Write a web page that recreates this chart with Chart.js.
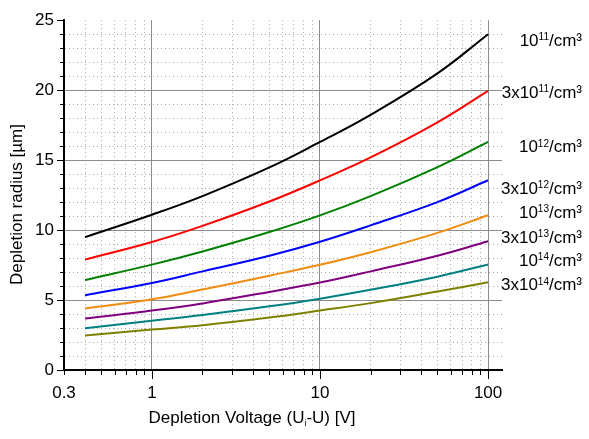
<!DOCTYPE html>
<html>
<head>
<meta charset="utf-8">
<script src="https://cdn.jsdelivr.net/npm/chart.js@4"></script>
<style>
  html, body { margin: 0; padding: 0; background: #fff; }
  canvas { display: block; }
</style>
</head>
<body>
<canvas id="radiusChart" width="589" height="439"></canvas>
<script>
// depletion voltage (Ui - U) in V
const voltages = [0.4, 1, 2, 5, 10, 20, 50, 100];

// depletion radius in µm, one array per doping density
const r1e11 = [9.5, 11.1, 12.43, 14.48, 16.3, 18.24, 21.2, 24.0];
const r3e11 = [7.89, 9.15, 10.3, 12.04, 13.55, 15.19, 17.7, 19.95];
const r1e12 = [6.43, 7.53, 8.47, 9.86, 11.05, 12.43, 14.5, 16.3];
const r3e12 = [5.35, 6.22, 7.05, 8.17, 9.17, 10.34, 12.0, 13.56];
const r1e13 = [4.39, 5.05, 5.75, 6.74, 7.52, 8.42, 9.8, 11.06];
const r3e13 = [3.68, 4.25, 4.76, 5.58, 6.25, 7.05, 8.17, 9.2];
const r1e14 = [2.98, 3.52, 3.93, 4.55, 5.1, 5.73, 6.67, 7.54];
const r3e14 = [2.46, 2.89, 3.2, 3.75, 4.25, 4.78, 5.61, 6.27];

// curve labels: mantissa text and exponent
const labelMantissa = ["10", "3x10", "10", "3x10", "10", "3x10", "10", "3x10"];
const labelExponent = ["11", "11", "12", "12", "13", "13", "14", "14"];

// axis ticks
const xTicks = [0.3, 0.4, 0.5, 0.6, 0.7, 0.8, 0.9, 1, 2, 3, 4, 5, 6, 7, 8, 9,
                10, 20, 30, 40, 50, 60, 70, 80, 90, 100];
const xTickLabels = ["0.3", "1", "10", "100"];
const yTicks = [0, 1, 2, 3, 4, 5, 6, 7, 8, 9, 10, 11, 12, 13, 14, 15, 16, 17, 18, 19, 20, 21, 22, 23, 24, 25];

const FONT = '"Liberation Sans", Arial, sans-serif';
const colors = ["#000000", "#ff0000", "#008000", "#0000ff", "#f28c0f", "#800080", "#008080", "#808000"];
const series = [r1e11, r3e11, r1e12, r3e12, r1e13, r3e13, r1e14, r3e14];

const isMajorX = (v) => v === 1 || v === 10 || v === 100;
const isMajorY = (v) => v % 5 === 0;

// baselines (in µm units) of the labels on the right side
const labelBaselines = [23.19, 19.44, 15.56, 12.61, 10.87, 9.11, 7.46, 5.70];

const decorPlugin = {
  id: "decor",
  afterDraw(chart) {
    const { ctx, scales: { x, y }, chartArea } = chart;
    ctx.save();

    // tick marks
    ctx.strokeStyle = "#000";
    ctx.lineWidth = 1;
    ctx.beginPath();
    xTicks.forEach((v) => {
      const px = Math.round(x.getPixelForValue(v)) + 0.5;
      const len = isMajorX(v) ? 9 : 5;
      ctx.moveTo(px, chartArea.bottom);
      ctx.lineTo(px, chartArea.bottom + len);
    });
    yTicks.forEach((v) => {
      const py = Math.round(y.getPixelForValue(v)) + 0.5;
      const len = isMajorY(v) ? 7 : 4;
      ctx.moveTo(chartArea.left, py);
      ctx.lineTo(chartArea.left - len, py);
    });
    ctx.stroke();

    ctx.fillStyle = "#000";

    // right hand labels
    const big = "17px " + FONT;
    const small = "10px " + FONT;
    const rightX = 582;
    labelMantissa.forEach((m, i) => {
      const base = y.getPixelForValue(labelBaselines[i]);
      ctx.font = big;
      const wM = ctx.measureText(m).width;
      const wS = ctx.measureText("/cm³").width;
      ctx.font = small;
      const wE = ctx.measureText(labelExponent[i]).width;
      let px = rightX - wM - wE - wS;
      ctx.textAlign = "left";
      ctx.textBaseline = "alphabetic";
      ctx.font = big;
      ctx.fillText(m, px, base);
      px += wM;
      ctx.font = small;
      ctx.fillText(labelExponent[i], px, base - 5.5);
      px += wE;
      ctx.font = big;
      ctx.fillText("/cm³", px, base);
    });

    // x axis title with subscript
    const p1 = "Depletion Voltage (U", sub = "i", p2 = "-U) [V]";
    ctx.font = big;
    const w1 = ctx.measureText(p1).width, w2 = ctx.measureText(p2).width;
    ctx.font = "9px " + FONT;
    const wSub = ctx.measureText(sub).width;
    let tx = 252 - (w1 + wSub + w2) / 2;
    const tb = 422.5;
    ctx.font = big;
    ctx.fillText(p1, tx, tb);
    tx += w1;
    ctx.font = "9px " + FONT;
    ctx.fillText(sub, tx, tb + 3);
    tx += wSub;
    ctx.font = big;
    ctx.fillText(p2, tx, tb);

    // y axis title
    ctx.translate(22, 204.5);
    ctx.rotate(-Math.PI / 2);
    ctx.textAlign = "center";
    ctx.font = big;
    ctx.fillText("Depletion radius [µm]", 0, 0);

    ctx.restore();
  }
};

new Chart(document.getElementById("radiusChart"), {
  type: "line",
  data: {
    datasets: series.map((vals, i) => ({
      label: labelMantissa[i] + "^" + labelExponent[i],
      data: voltages.map((v, k) => ({ x: v, y: vals[k] })),
      borderColor: colors[i],
      borderWidth: 2,
      pointRadius: 0,
      fill: false,
      tension: 0.4
    }))
  },
  options: {
    responsive: false,
    animation: false,
    devicePixelRatio: 1,
    layout: { padding: { top: 15, right: 87, left: 0, bottom: 0 } },
    plugins: { legend: { display: false }, tooltip: { enabled: false } },
    scales: {
      x: {
        type: "logarithmic",
        min: 0.3,
        max: 121,
        afterBuildTicks: (s) => { s.ticks = xTicks.map((v) => ({ value: v })); },
        afterFit: (s) => { s.height = 69; },
        ticks: {
          autoSkip: false,
          maxRotation: 0,
          padding: 13,
          color: "#000",
          font: { family: FONT, size: 17 },
          callback: (v) => (xTickLabels.includes(String(v)) ? String(v) : "")
        },
        grid: {
          drawTicks: false,
          lineWidth: 1,
          color: (c) => (c.tick && isMajorX(c.tick.value) ? "#8c8c8c" : "#a8a8a8")
        },
        border: {
          color: "#000",
          width: 2,
          dash: (c) => (c.tick && !isMajorX(c.tick.value) ? [1, 3] : [])
        }
      },
      y: {
        min: 0,
        max: 25,
        afterBuildTicks: (s) => { s.ticks = yTicks.map((v) => ({ value: v })); },
        afterFit: (s) => { s.width = 64; },
        ticks: {
          autoSkip: false,
          padding: 10,
          color: "#000",
          font: { family: FONT, size: 17 },
          callback: (v) => (isMajorY(v) ? String(v) : "")
        },
        grid: {
          drawTicks: false,
          lineWidth: 1,
          color: (c) => {
            if (!c.tick || c.tick.value === 25) return "rgba(0,0,0,0)";
            return isMajorY(c.tick.value) ? "#8c8c8c" : "#a8a8a8";
          }
        },
        border: {
          color: "#000",
          width: 2,
          dash: (c) => (c.tick && !isMajorY(c.tick.value) ? [1, 3] : [])
        }
      }
    }
  },
  plugins: [decorPlugin]
});
</script>
</body>
</html>
